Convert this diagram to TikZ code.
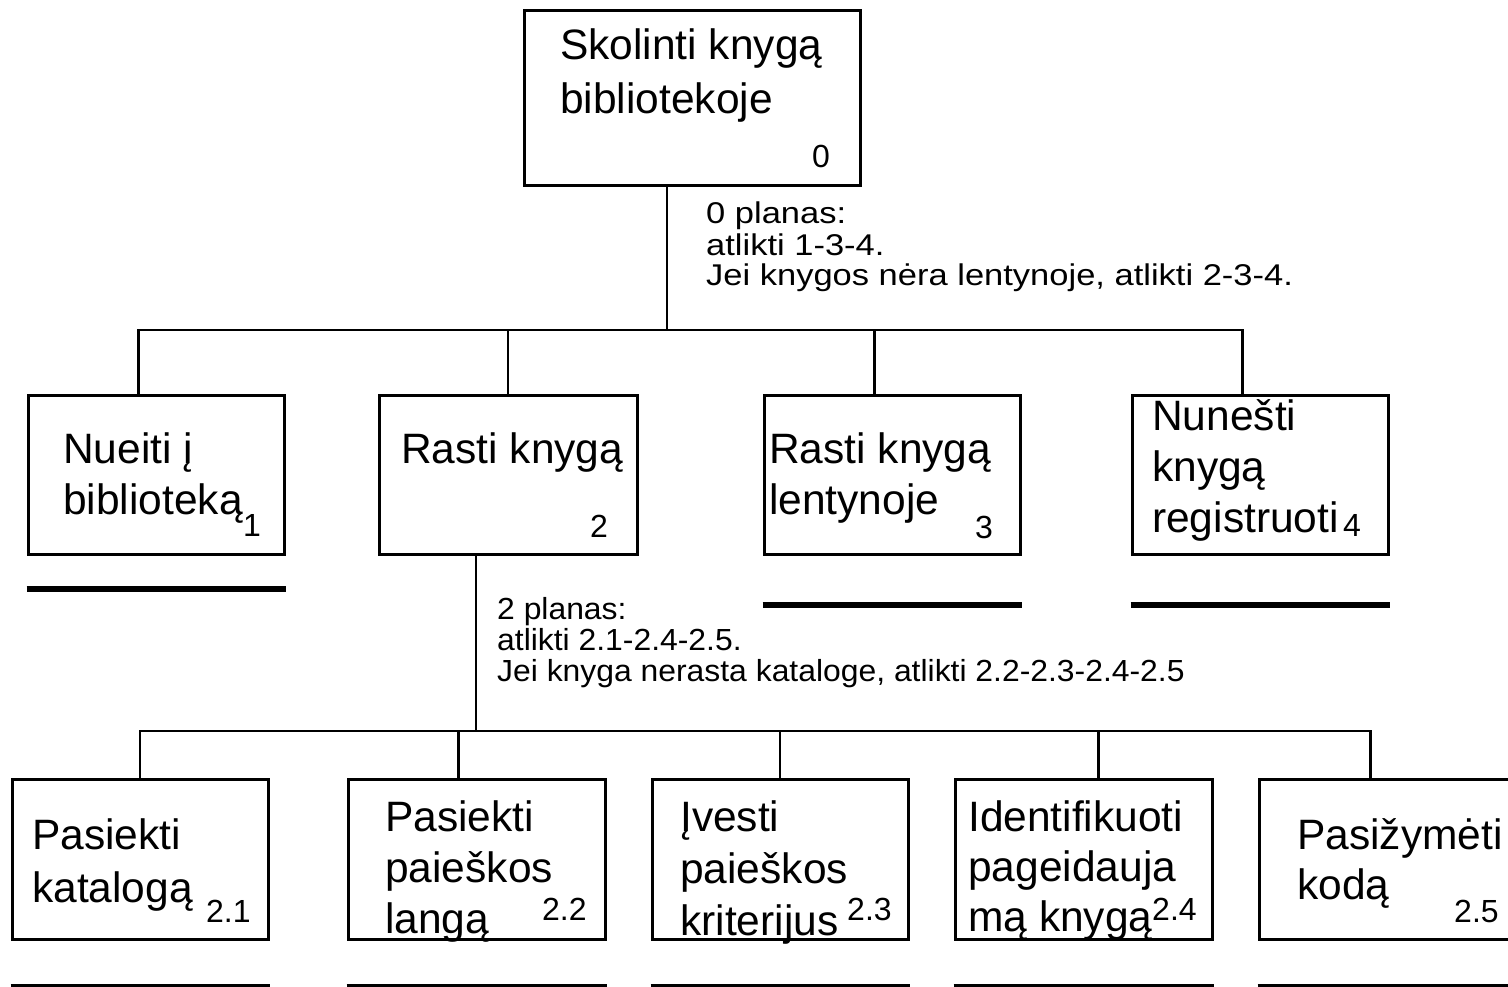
\documentclass[tikz,border=0pt]{standalone}
\usepackage{fontspec}
\setmainfont{Liberation Sans}
\newfontfamily\stf{Liberation Sans}
\newfontfamily\stfw[FakeStretch=1.15]{Liberation Sans}
\newfontfamily\stfn[FakeStretch=1.045]{Liberation Sans}
\usetikzlibrary{calc}
\tikzset{
  box/.style={draw, line width=3pt, rectangle, inner sep=0pt},
  conn/.style={line width=2.5pt},
  uline/.style={line width=6pt},
  lbl/.style={anchor=base west, inner sep=0pt, font=\stf\fontsize{42.5}{48}\selectfont},
  num/.style={anchor=base west, inner sep=0pt, font=\stf\fontsize{32}{36}\selectfont},
  plan/.style={anchor=base west, inner sep=0pt, font=\stfn\fontsize{30.5}{31}\selectfont},
  plann/.style={anchor=base west, inner sep=0pt, font=\stfw\fontsize{30}{31}\selectfont},
}
\begin{document}
\begin{tikzpicture}[x=1pt,y=-1pt]
\useasboundingbox (0,0) rectangle (1508,987);
\fill[white] (0,0) rectangle (1508,987);
% boxes
\node[box, minimum width=336pt, minimum height=175pt] (b0) at (692,98.5) {};
\node[box, minimum width=256pt, minimum height=159pt] (b1) at (156,474.5) {};
\node[box, minimum width=258pt, minimum height=159pt] (b2) at (508,474.5) {};
\node[box, minimum width=256pt, minimum height=159pt] (b3) at (892,474.5) {};
\node[box, minimum width=256pt, minimum height=159pt] (b4) at (1260,474.5) {};
\node[box, minimum width=256pt, minimum height=160pt] (b21) at (140,859) {};
\node[box, minimum width=257pt, minimum height=160pt] (b22) at (476.5,859) {};
\node[box, minimum width=256pt, minimum height=160pt] (b23) at (780,859) {};
\node[box, minimum width=257pt, minimum height=160pt] (b24) at (1083.5,859) {};
\node[box, minimum width=256pt, minimum height=160pt] (b25) at (1387,859) {};
% connectors level 1
\coordinate (j0) at (667,330);
\coordinate (t1) at ($(b1.north west)+(112,0)$);
\coordinate (t3) at ($(b3.north west)+(112,0)$);
\coordinate (t4) at ($(b4.north west)+(112,0)$);
\draw[conn] (b0.south -| j0) -- (j0);
\draw[conn] (t1) |- (j0) -| (t4);
\draw[conn] (b2.north) -- (b2.north |- j0);
\draw[conn] (t3) -- (t3 |- j0);
% connectors level 2
\coordinate (j2) at (476,731);
\coordinate (u2) at ($(b22.north west)+(112,0)$);
\coordinate (u4) at ($(b24.north west)+(145,0)$);
\coordinate (u5) at ($(b25.north west)+(113,0)$);
\draw[conn] (b2.south -| j2) -- (j2);
\draw[conn] (b21.north) |- (j2) -| (u5);
\draw[conn] (u2) -- (u2 |- j2);
\draw[conn] (b23.north) -- (b23.north |- j2);
\draw[conn] (u4) -- (u4 |- j2);
% underlines
\draw[uline] ([yshift=-33pt]b1.south west) -- ([yshift=-33pt]b1.south east);
\draw[uline] ([yshift=-49pt]b3.south west) -- ([yshift=-49pt]b3.south east);
\draw[uline] ([yshift=-49pt]b4.south west) -- ([yshift=-49pt]b4.south east);
\draw[uline] ([yshift=-46pt]b21.south west) -- ([yshift=-46pt]b21.south east);
\draw[uline] ([yshift=-46pt]b22.south west) -- ([yshift=-46pt]b22.south east);
\draw[uline] ([yshift=-46pt]b23.south west) -- ([yshift=-46pt]b23.south east);
\draw[uline] ([yshift=-46pt]b24.south west) -- ([yshift=-46pt]b24.south east);
\draw[uline] ([yshift=-46pt]b25.south west) -- ([yshift=-46pt]b25.south east);
% texts
\node[lbl] (t0a) at (560,60) {Skolinti knygą};
\node[lbl] (t0b) at (560,114) {bibliotekoje};
\node[num] (n0) at (812,168) {0};
\node[lbl] (t1a) at (63,463) {Nueiti į};
\node[lbl] (t1b) at (63,514) {biblioteką};
\node[num] (n1) at (243,536) {1};
\node[lbl] (t2a) at (401,463) {Rasti knygą};
\node[num] (n2) at (590,537) {2};
\node[lbl] (t3a) at (769,463) {Rasti knygą};
\node[lbl] (t3b) at (769,514) {lentynoje};
\node[num] (n3) at (975,538) {3};
\node[lbl] (t4a) at (1152,430) {Nunešti};
\node[lbl] (t4b) at (1152,481) {knygą};
\node[lbl] (t4c) at (1152,532) {registruoti};
\node[num] (n4) at (1343,536) {4};
\node[lbl] (t21a) at (32,849) {Pasiekti};
\node[lbl] (t21b) at (32,902) {katalogą};
\node[num] (n21) at (206,922) {2.1};
\node[lbl] (t22a) at (385,831) {Pasiekti};
\node[lbl] (t22b) at (385,882) {paieškos};
\node[lbl] (t22c) at (385,933) {langą};
\node[num] (n22) at (542,920) {2.2};
\node[lbl] (t23a) at (680,831) {Įvesti};
\node[lbl] (t23b) at (680,883) {paieškos};
\node[lbl] (t23c) at (680,935) {kriterijus};
\node[num] (n23) at (847,920) {2.3};
\node[lbl] (t24a) at (968,831) {Identifikuoti};
\node[lbl] (t24b) at (968,881) {pageidauja};
\node[lbl] (t24c) at (968,931) {mą knygą};
\node[num] (n24) at (1152,920) {2.4};
\node[lbl] (t25a) at (1297,849) {Pasižymėti};
\node[lbl] (t25b) at (1297,899) {kodą};
\node[num] (n25) at (1454,922) {2.5};
% plans
\node[plann] (p0a) at (706,224) {0 planas:};
\node[plann] (p0b) at (706,255) {atlikti 1-3-4.};
\node[plann] (p0c) at (706,286) {Jei knygos nėra lentynoje, atlikti 2-3-4.};
\node[plan] (p2a) at (497,619) {2 planas:};
\node[plan] (p2b) at (497,650) {atlikti 2.1-2.4-2.5.};
\node[plan] (p2c) at (497,681) {Jei knyga nerasta kataloge, atlikti 2.2-2.3-2.4-2.5};
\end{tikzpicture}
\end{document}
